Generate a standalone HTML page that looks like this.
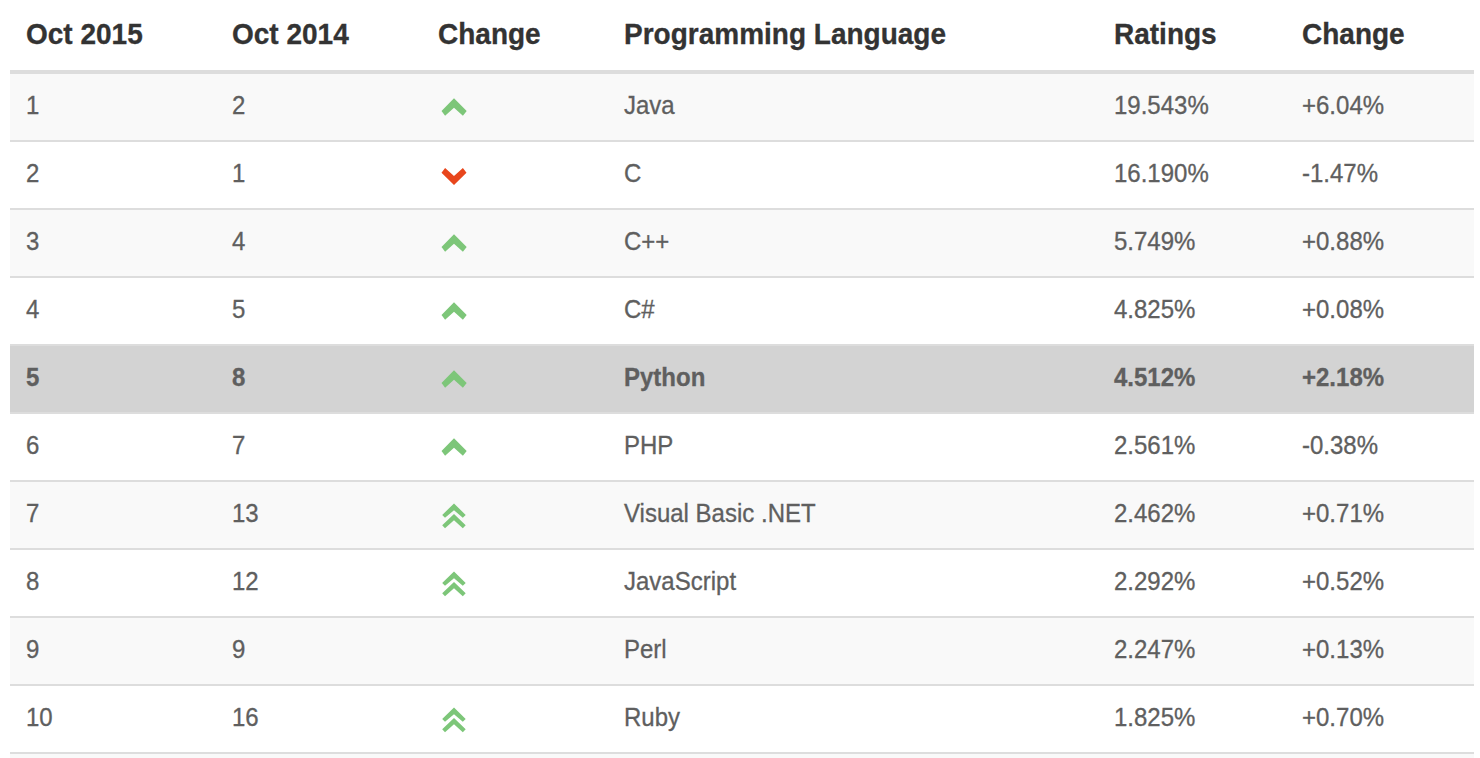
<!DOCTYPE html><html><head><meta charset="utf-8"><style>
*{margin:0;padding:0;box-sizing:border-box}
html,body{width:1480px;height:758px;overflow:hidden;background:#fff}
body{font-family:"Liberation Sans",sans-serif;position:relative}
.hd{position:absolute;left:10px;top:0;width:1464px;height:74px;border-bottom:4px solid #ddd}
.hd span{position:absolute;top:0;line-height:70px;height:70px;font-size:28px;font-weight:bold;color:#333;white-space:nowrap;transform:scaleY(1.08);transform-origin:0 44.7px;-webkit-text-stroke:0.3px #333}
.r{position:absolute;left:10px;width:1464px;height:68px;border-bottom:2px solid #ddd}
.r span{position:absolute;top:-1px;line-height:66px;height:66px;font-size:24px;color:#5f5f5f;white-space:nowrap;transform:scaleY(1.04);transform-origin:0 41.3px;-webkit-text-stroke:0.3px #5f5f5f}
.odd{background:#f9f9f9}
.hl{background:#d3d3d3}
.hl span{font-weight:bold}
.ic{position:absolute;left:426px}
</style></head><body>
<div class="hd">
<span style="left:16px">Oct 2015</span>
<span style="left:222px">Oct 2014</span>
<span style="left:428px">Change</span>
<span style="left:614px">Programming Language</span>
<span style="left:1104px">Ratings</span>
<span style="left:1292px">Change</span>
</div>
<div class="r odd" style="top:74px">
<span style="left:16px">1</span>
<span style="left:222px">2</span>
<svg class="ic" style="top:18px" width="36" height="36" viewBox="0 0 36 36"><polygon fill="#7dc679" points="18,6.3 30.7,19 26.9,23.7 18,15.8 9.1,23.7 5.5,19"/></svg>
<span style="left:614px">Java</span>
<span style="left:1104px">19.543%</span>
<span style="left:1292px">+6.04%</span>
</div>
<div class="r" style="top:142px">
<span style="left:16px">2</span>
<span style="left:222px">1</span>
<svg class="ic" style="top:18px" width="36" height="36" viewBox="0 0 36 36"><polygon fill="#e8461c" points="9.1,7.9 18,16 26.9,7.9 30.5,12.7 18,25.1 5.5,12.7"/></svg>
<span style="left:614px">C</span>
<span style="left:1104px">16.190%</span>
<span style="left:1292px">-1.47%</span>
</div>
<div class="r odd" style="top:210px">
<span style="left:16px">3</span>
<span style="left:222px">4</span>
<svg class="ic" style="top:18px" width="36" height="36" viewBox="0 0 36 36"><polygon fill="#7dc679" points="18,6.3 30.7,19 26.9,23.7 18,15.8 9.1,23.7 5.5,19"/></svg>
<span style="left:614px">C++</span>
<span style="left:1104px">5.749%</span>
<span style="left:1292px">+0.88%</span>
</div>
<div class="r" style="top:278px">
<span style="left:16px">4</span>
<span style="left:222px">5</span>
<svg class="ic" style="top:18px" width="36" height="36" viewBox="0 0 36 36"><polygon fill="#7dc679" points="18,6.3 30.7,19 26.9,23.7 18,15.8 9.1,23.7 5.5,19"/></svg>
<span style="left:614px">C#</span>
<span style="left:1104px">4.825%</span>
<span style="left:1292px">+0.08%</span>
</div>
<div class="r hl" style="top:346px">
<span style="left:16px">5</span>
<span style="left:222px">8</span>
<svg class="ic" style="top:18px" width="36" height="36" viewBox="0 0 36 36"><polygon fill="#7dc679" points="18,6.3 30.7,19 26.9,23.7 18,15.8 9.1,23.7 5.5,19"/></svg>
<span style="left:614px">Python</span>
<span style="left:1104px">4.512%</span>
<span style="left:1292px">+2.18%</span>
</div>
<div class="r" style="top:414px">
<span style="left:16px">6</span>
<span style="left:222px">7</span>
<svg class="ic" style="top:18px" width="36" height="36" viewBox="0 0 36 36"><polygon fill="#7dc679" points="18,6.3 30.7,19 26.9,23.7 18,15.8 9.1,23.7 5.5,19"/></svg>
<span style="left:614px">PHP</span>
<span style="left:1104px">2.561%</span>
<span style="left:1292px">-0.38%</span>
</div>
<div class="r odd" style="top:482px">
<span style="left:16px">7</span>
<span style="left:222px">13</span>
<svg class="ic" style="top:16px" width="36" height="36" viewBox="0 0 36 36"><polygon fill="#7dc679" points="18,5.5 29.7,16.9 26.8,19.7 18,12.3 9,19.7 6.2,16.9"/><polygon fill="#7dc679" points="18,15.9 29.7,27.3 26.8,30.2 18,22.3 9,30.2 6.2,27.3"/></svg>
<span style="left:614px">Visual Basic .NET</span>
<span style="left:1104px">2.462%</span>
<span style="left:1292px">+0.71%</span>
</div>
<div class="r" style="top:550px">
<span style="left:16px">8</span>
<span style="left:222px">12</span>
<svg class="ic" style="top:16px" width="36" height="36" viewBox="0 0 36 36"><polygon fill="#7dc679" points="18,5.5 29.7,16.9 26.8,19.7 18,12.3 9,19.7 6.2,16.9"/><polygon fill="#7dc679" points="18,15.9 29.7,27.3 26.8,30.2 18,22.3 9,30.2 6.2,27.3"/></svg>
<span style="left:614px">JavaScript</span>
<span style="left:1104px">2.292%</span>
<span style="left:1292px">+0.52%</span>
</div>
<div class="r odd" style="top:618px">
<span style="left:16px">9</span>
<span style="left:222px">9</span>
<span style="left:614px">Perl</span>
<span style="left:1104px">2.247%</span>
<span style="left:1292px">+0.13%</span>
</div>
<div class="r" style="top:686px">
<span style="left:16px">10</span>
<span style="left:222px">16</span>
<svg class="ic" style="top:16px" width="36" height="36" viewBox="0 0 36 36"><polygon fill="#7dc679" points="18,5.5 29.7,16.9 26.8,19.7 18,12.3 9,19.7 6.2,16.9"/><polygon fill="#7dc679" points="18,15.9 29.7,27.3 26.8,30.2 18,22.3 9,30.2 6.2,27.3"/></svg>
<span style="left:614px">Ruby</span>
<span style="left:1104px">1.825%</span>
<span style="left:1292px">+0.70%</span>
</div>
<div class="r odd" style="top:754px;border:none"></div>
</body></html>
